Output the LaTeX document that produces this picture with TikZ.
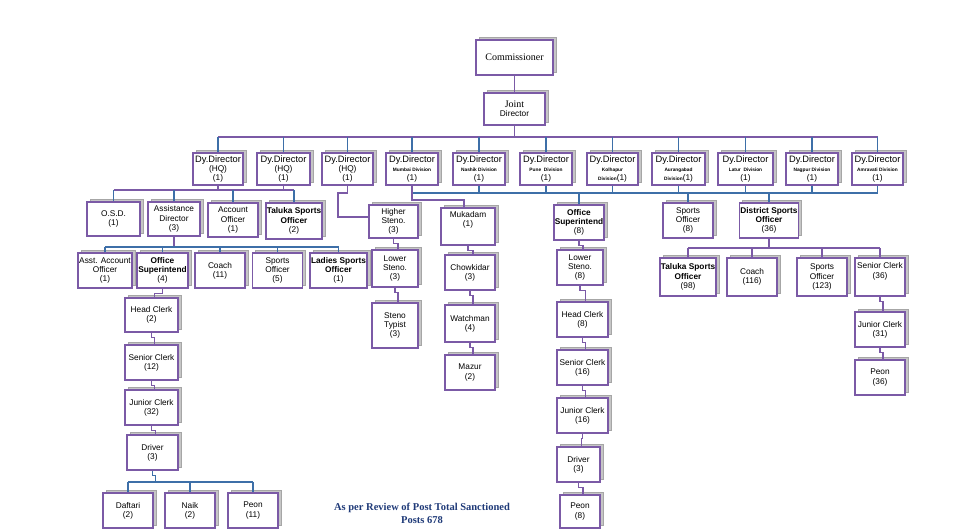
\documentclass[tikz,border=0pt]{standalone}
\usepackage{fontspec}
\setmainfont{Liberation Serif}
\setsansfont{Liberation Sans}
\usetikzlibrary{shadows}
\definecolor{pur}{HTML}{7B5AA6}
\definecolor{blu}{HTML}{3D6FA8}
\definecolor{navy}{HTML}{1F3A78}
\tikzset{
 bx/.style={draw=pur,line width=1.5pt,fill=white,align=center,inner sep=1pt,
   font=\sffamily\fontsize{8.3}{9.3}\selectfont,
   copy shadow={shadow xshift=3pt,shadow yshift=3pt,fill=gray!45,draw=gray!70,line width=0.5pt}},
 ln/.style={draw=pur,line width=1.3pt},
 bl/.style={draw=blu,line width=1.3pt},
}
\newcommand{\B}[6]{\node[bx,minimum width=#4,minimum height=#5] (#1) at (#2,#3) {#6};}
\newcommand{\sm}[1]{{\fontsize{4.8}{5.5}\selectfont\bfseries #1}}
\newcommand{\dy}{{\fontsize{9.3}{10}\selectfont Dy.Director}}
\begin{document}
\begin{tikzpicture}[x=1pt,y=-1pt]
\useasboundingbox (0,0) rectangle (964,531);
% top
\B{com}{514.5}{57.5}{77pt}{35pt}{\rmfamily\fontsize{10}{11}\selectfont Commissioner}
\B{jd}{514.5}{109}{61pt}{32pt}{\rmfamily\fontsize{10}{11}\selectfont Joint\\Director}
% directors
\B{d1}{218}{169}{50pt}{32pt}{\dy\\(HQ)\\(1)}
\B{d2}{283.5}{169}{53pt}{32pt}{\dy\\(HQ)\\(1)}
\B{d3}{347.5}{169}{51pt}{32pt}{\dy\\(HQ)\\(1)}
\B{d4}{412}{169}{52pt}{32pt}{\dy\\\sm{Mumbai Division}\\(1)}
\B{d5}{479}{169}{52pt}{32pt}{\dy\\\sm{Nashik Division}\\(1)}
\B{d6}{546}{169}{52pt}{32pt}{\dy\\\sm{Pune\ \ Division}\\(1)}
\B{d7}{612.5}{169}{51pt}{32pt}{\dy\\\sm{Kolhapur}\\\sm{Division}(1)}
\B{d8}{678.5}{169}{53pt}{32pt}{\dy\\\sm{Aurangabad}\\\sm{Division}(1)}
\B{d9}{745.5}{169}{55pt}{32pt}{\dy\\\sm{Latur\ \ Division}\\(1)}
\B{d10}{812}{169}{52pt}{32pt}{\dy\\\sm{Nagpur Division}\\(1)}
\B{d11}{877.5}{169}{51pt}{32pt}{\dy\\\sm{Amravati Division}\\(1)}
% connectors first
\coordinate (b1) at (514.5,137);
\draw[ln] (com.south) -- (jd.north);
\draw[ln] (jd.south) -- (b1);
\draw[ln] (d1.north|-b1) -- (d11.north|-b1);
\foreach \n in {d1,d2,d3,d4,d5,d6,d7,d8,d9,d10,d11} \draw[bl] (\n.north) -- (\n.north|-b1);
% second row
\B{osd}{113.5}{219}{53pt}{34pt}{O.S.D.\\(1)}
\B{ad}{174}{219}{52pt}{34pt}{Assistance\\Director\\(3)}
\B{ao}{233}{220}{50pt}{34pt}{Account\\Officer\\(1)}
\B{tso}{294}{221}{52pt}{36pt}{\bfseries Taluka Sports\\\bfseries Officer\\(2)}
\B{hs}{393.5}{221.5}{49pt}{33pt}{Higher\\Steno.\\(3)}
\B{muk}{468}{226.5}{54pt}{37pt}{Mukadam\\(1)\\[6pt]}
\B{os8}{579}{222.5}{48pt}{35pt}{\bfseries Office\\\bfseries Superintend\\(8)}
\B{so8}{688}{220.5}{50pt}{35pt}{Sports\\Officer\\(8)}
\B{dso}{769}{220.5}{54pt}{35pt}{\bfseries District Sports\\\bfseries Officer\\(36)}
% AD children
\B{aao}{105}{270.5}{50pt}{35pt}{Asst. Account\\Officer\\(1)}
\B{os4}{162.5}{270.5}{51pt}{35pt}{\bfseries Office\\\bfseries Superintend\\(4)}
\B{coach}{220}{270.5}{50pt}{35pt}{Coach\\(11)}
\B{so5}{277.5}{270.5}{50pt}{35pt}{Sports\\Officer\\(5)}
\B{lso}{338.5}{270.5}{53pt}{35pt}{\bfseries Ladies Sports\\\bfseries Officer\\(1)}
% steno column
\B{ls3}{395}{268.5}{46pt}{37pt}{Lower\\Steno.\\(3)}
\B{st}{395}{325.5}{46pt}{45pt}{Steno\\Typist\\(3)}
% mukadam column
\B{ch}{470}{272.5}{50pt}{35pt}{Chowkidar\\(3)}
\B{wm}{470}{323.5}{50pt}{37pt}{Watchman\\(4)}
\B{mz}{470}{372.5}{50pt}{35pt}{Mazur\\(2)}
% OS8 column
\B{ls8}{580}{267.5}{46pt}{35pt}{Lower\\Steno.\\(8)}
\B{hc8}{582.5}{319.5}{51pt}{35pt}{Head Clerk\\(8)}
\B{sc8}{582.5}{367.5}{51pt}{35pt}{Senior Clerk\\(16)}
\B{jc8}{582.5}{415.5}{51pt}{35pt}{Junior Clerk\\(16)}
\B{dr8}{578.5}{464.5}{43pt}{35pt}{Driver\\(3)}
\B{pe8}{580}{511.5}{40pt}{33pt}{Peon\\(8)}
% DSO column
\B{tso98}{688}{277}{50pt}{38pt}{\bfseries Taluka Sports\\\bfseries Officer\\(98)}
\B{co116}{752}{277}{50pt}{38pt}{Coach\\(116)}
\B{so123}{822}{277}{50pt}{38pt}{Sports\\Officer\\(123)}
\B{sc36}{880}{277}{50pt}{38pt}{Senior Clerk\\(36)\\[4pt]}
\B{jc31}{880}{329.5}{50pt}{35pt}{Junior Clerk\\(31)}
\B{pe36}{880}{377.5}{50pt}{35pt}{Peon\\(36)}
% OS4 column
\B{hc2}{151.5}{315}{53pt}{34pt}{Head Clerk\\(2)}
\B{sc12}{151.5}{362.5}{53pt}{35pt}{Senior Clerk\\(12)}
\B{jc32}{151.5}{407.5}{53pt}{35pt}{Junior Clerk\\(32)}
\B{dr3}{152.5}{452.5}{51pt}{35pt}{Driver\\(3)}
\B{daf}{128}{510.5}{50pt}{35pt}{Daftari\\(2)}
\B{naik}{190}{510.5}{50pt}{35pt}{Naik\\(2)}
\B{pe11}{253}{510.5}{50pt}{35pt}{Peon\\(11)}
% footer
\node[font=\rmfamily\bfseries\fontsize{10.5}{13}\selectfont,text=navy,align=center] (ft) at (422,513) {As per Review of Post Total Sanctioned\\Posts 678};
% HQ bus
\coordinate (b2) at (200,190);
\draw[ln] (osd.north|-b2) -- (tso.north|-b2);
\foreach \n in {d1,d2} \draw[ln] (\n.south) -- (\n.south|-b2);
\foreach \n in {osd,ad,ao,tso} \draw[bl] (\n.north) -- (\n.north|-b2);
\coordinate (h1) at (338,193);
\coordinate (h2) at (338,217);
\draw[ln] (d3.south) |- (h1) -- (h2) -- (hs.west|-h2);
% division bus
\coordinate (b3) at (600,193);
\draw[bl] (d4.south|-b3) -- (d11.south|-b3);
\foreach \n in {d5,d6,d7,d8,d9,d10,d11} \draw[bl] (\n.south) -- (\n.south|-b3);
\foreach \n in {os8,so8,dso} \draw[bl] (\n.north) -- (\n.north|-b3);
\coordinate (m1) at (464,200);
\draw[ln] (d4.south) |- (m1) -- (muk.north-|m1);
% AD bus
\coordinate (b4) at (200,247);
\draw[ln] (ad.south) -- (ad.south|-b4);
\draw[bl] (aao.north|-b4) -- (lso.north|-b4);
\foreach \n in {aao,os4,coach,so5,lso} \draw[bl] (\n.north) -- (\n.north|-b4);
% chains
\foreach \a/\b in {hs/ls3,ls3/st,muk/ch,ch/wm,wm/mz,os8/ls8,ls8/hc8,hc8/sc8,sc8/jc8,jc8/dr8,dr8/pe8,sc36/jc31,jc31/pe36,os4/hc2,hc2/sc12,sc12/jc32,jc32/dr3}
  \draw[ln] (\a.south) -- ++(0,5) -| ([xshift=3pt]\b.north);
% DSO bus
\coordinate (b5) at (700,248);
\draw[ln] (dso.south) -- (dso.south|-b5);
\draw[ln] (tso98.north|-b5) -- (sc36.north|-b5);
\foreach \n in {tso98,co116,so123,sc36} \draw[ln] (\n.north) -- (\n.north|-b5);
% driver bus
\coordinate (b6) at (200,482);
\draw[bl] (dr3.south) -- ++(0,5) -| ([xshift=3pt]dr3.south|-b6);
\draw[bl] (daf.north|-b6) -- (pe11.north|-b6);
\foreach \n in {daf,naik,pe11} \draw[bl] (\n.north) -- (\n.north|-b6);
\end{tikzpicture}
\end{document}
